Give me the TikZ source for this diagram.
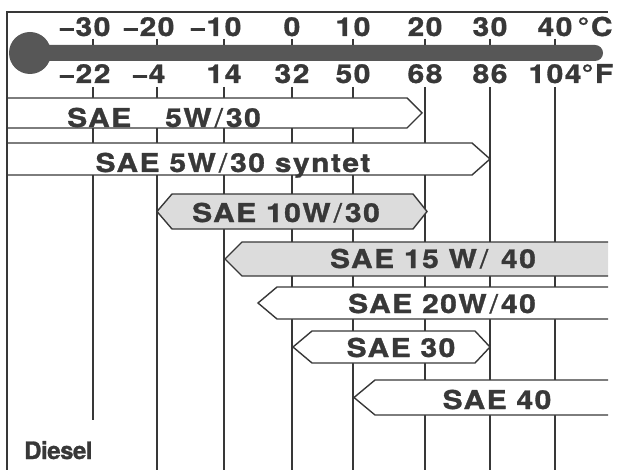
\documentclass[tikz,border=0pt]{standalone}
\usepackage{fontspec}
\setmainfont{TeX Gyre Heros}
\newfontfamily\saefont{TeX Gyre Heros}[FakeStretch=1.15,LetterSpace=6,FakeBold=1.2]
\newfontfamily\tagfont{TeX Gyre Heros}[LetterSpace=-2,FakeBold=1.2]
\definecolor{ink}{HTML}{383838}
\definecolor{mercury}{HTML}{575757}
\definecolor{dots}{HTML}{DCDCDC}
\newcommand\oilslash{\kern3pt{\mdseries/}\kern3pt}

\begin{document}
\begin{tikzpicture}[x=1pt, y=-1pt,
    grid line/.style={draw=ink, line width=1.2pt},
    bar/.style={draw=ink, fill=white, line width=1.4pt},
    shaded bar/.style={bar, fill=dots},
    scale label/.style={anchor=base, inner sep=0pt, text=ink, font=\saefont\bfseries\fontsize{26}{30}\selectfont},
    oil label/.style={scale label}]

  \useasboundingbox (0,0) rectangle (617,470);

  % grid below the thermometer
  \draw[grid line] (93,87) -- (93,420);
  \foreach \x in {157,224,292,353,425,490,555}
    \draw[grid line] (\x,87) -- (\x,470);

  % thermometer
  \fill[mercury] (30,53) circle (21);
  \fill[mercury, rounded corners=8pt] (30,45) rectangle (603,61);
  \foreach \x/\c/\f [count=\i] in {93/{\llap{−}30}/{\llap{−}22}, 157/{\llap{−}20}/{\llap{−}4},
      224/{\llap{−}10}/14, 292/0/32, 353/10/50, 425/20/68, 490/30/86,
      555/{40\rlap{\kern5pt°C}}/{104\rlap{°F}}} {
    \draw[grid line] (\x,39) -- (\x,45);
    \node[scale label] (c\i) at (\x,36) {\c};
    \node[scale label] (f\i) at (\x,83) {\f};
  }

  % oil grades
  \filldraw[bar] (7,98) -- (407,98) -- (422,113) -- (407,128) -- (7,128);
  \filldraw[bar] (7,143) -- (472,143) -- (490,159) -- (472,175) -- (7,175);
  \filldraw[shaded bar] (172,194) -- (413,194) -- (427,211.5) -- (413,229) -- (172,229) -- (157,211.5) -- cycle;
  \filldraw[shaded bar] (608,242) -- (242,242) -- (225,259) -- (242,276) -- (608,276);
  \filldraw[bar] (608,287) -- (277,287) -- (258,303) -- (277,319) -- (608,319);
  \filldraw[bar] (312,331) -- (475,331) -- (490,347) -- (475,363) -- (312,363) -- (293,347) -- cycle;
  \filldraw[bar] (608,380) -- (375,380) -- (354,397.5) -- (375,415) -- (608,415);

  \node[oil label] (5w30) at (164,127) {SAE\hspace{34pt}5W\oilslash30};
  \node[oil label] (5w30s) at (233,172) {SAE 5W\oilslash30 syntet};
  \node[oil label] (10w30) at (286,222) {SAE 10W\oilslash30};
  \node[oil label] (15w40) at (433,268) {SAE 15 W\oilslash\ 40};
  \node[oil label] (20w40) at (442,313) {SAE 20W\oilslash40};
  \node[oil label] (30) at (401,357) {SAE 30};
  \node[oil label] (40) at (497,409) {SAE 40};

  \node[anchor=base west, inner sep=0pt, text=ink, font=\tagfont\bfseries\fontsize{24}{28}\selectfont] (diesel) at (24,459) {Diesel};

  % frame
  \draw[ink, line width=1.5pt] (7,470) -- (7,12) -- (608,12);
\end{tikzpicture}
\end{document}
